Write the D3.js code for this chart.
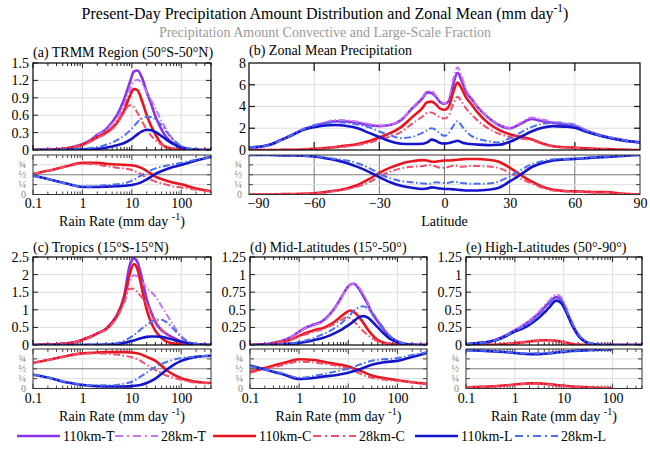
<!DOCTYPE html>
<html><head><meta charset="utf-8">
<script src="https://cdn.jsdelivr.net/npm/d3@7"></script>
<style>body{margin:0;background:#fff}svg{display:block}svg text{font-family:"Liberation Serif","Times New Roman",serif !important}</style>
</head><body><script>
// ---------------- DATA ----------------
const rate = [0.1,0.2,0.3,0.5,0.7,1,1.5,2,3,4,5,7,9,11,13,16,20,25,30,40,50,70,100,150,200,300,400];
const fracRate = [0.1,0.2,0.5,1,2,3,5,7,10,15,20,30,50,70,100,200,400];
const fracRateE = [0.1,0.2,0.5,1,2,3,5,7,10,15,20,30,50,70,100];
const lat = [-90,-85,-80,-75,-70,-65,-60,-55,-50,-45,-40,-35,-30,-25,-20,-15,-10,-8,-6,-4,-2,0,2,4,6,8,10,12,15,20,25,30,35,40,45,50,55,60,65,70,75,80,85,90];
const seriesNames = ["110km-T","28km-T","110km-C","28km-C","110km-L","28km-L"];

// (a) TRMM region
const aT110 = [0,0.005,0.01,0.03,0.06,0.1,0.18,0.26,0.36,0.48,0.6,0.88,1.15,1.35,1.37,1.25,1.0,0.78,0.58,0.35,0.22,0.11,0.05,0.015,0.005,0,0];
const aT28  = [0,0.005,0.01,0.03,0.06,0.1,0.18,0.25,0.35,0.45,0.55,0.78,1.02,1.18,1.21,1.15,1.0,0.85,0.72,0.5,0.35,0.17,0.06,0.02,0.01,0,0];
const aC110 = [0,0.005,0.01,0.03,0.05,0.09,0.16,0.22,0.3,0.38,0.47,0.68,0.92,1.05,1.03,0.85,0.6,0.4,0.27,0.1,0.05,0.02,0.01,0,0,0,0];
const aC28  = [0,0.005,0.01,0.03,0.05,0.08,0.15,0.21,0.28,0.36,0.45,0.65,0.77,0.74,0.64,0.5,0.35,0.24,0.17,0.09,0.05,0.02,0.01,0,0,0,0];
const aL110 = [0,0,0,0.003,0.006,0.01,0.015,0.02,0.04,0.06,0.08,0.12,0.17,0.22,0.27,0.32,0.35,0.34,0.31,0.24,0.18,0.1,0.04,0.015,0.005,0,0];
const aL28  = [0,0,0.002,0.005,0.01,0.02,0.035,0.05,0.09,0.13,0.17,0.25,0.33,0.41,0.48,0.54,0.57,0.57,0.53,0.43,0.32,0.17,0.07,0.02,0.01,0,0];
const afC110 = [0.52,0.6,0.72,0.8,0.8,0.78,0.76,0.75,0.74,0.68,0.6,0.45,0.35,0.3,0.26,0.15,0.08];
const afC28  = [0.52,0.6,0.72,0.78,0.76,0.72,0.68,0.66,0.62,0.52,0.42,0.33,0.25,0.2,0.18,0.12,0.07];
const afL110 = [0.48,0.39,0.27,0.19,0.19,0.2,0.21,0.22,0.24,0.3,0.38,0.52,0.64,0.7,0.75,0.86,0.95];
const afL28  = [0.48,0.39,0.27,0.2,0.22,0.24,0.26,0.28,0.35,0.47,0.56,0.66,0.73,0.77,0.8,0.88,0.95];

// (b) zonal mean
const bT110 = [0.25,0.3,0.5,0.95,1.4,1.9,2.2,2.45,2.65,2.62,2.5,2.3,2.2,2.3,2.75,3.8,4.8,5.3,5.25,4.9,4.4,4.25,4.5,6.0,7.1,6.3,5.3,4.8,4.0,3.0,2.3,2.0,2.4,2.85,2.65,2.5,2.35,2.2,1.8,1.45,1.2,1.0,0.8,0.7];
const bT28  = [0.25,0.3,0.5,0.95,1.45,1.95,2.3,2.55,2.75,2.72,2.6,2.4,2.25,2.35,2.8,3.85,4.9,5.4,5.4,5.0,4.45,4.3,4.7,6.5,7.6,6.7,5.5,4.9,4.05,3.05,2.35,2.05,2.5,3.0,2.8,2.6,2.5,2.35,1.85,1.5,1.22,1.02,0.82,0.7];
const bC110 = [0,0,0,0.01,0.02,0.05,0.1,0.18,0.28,0.4,0.55,0.8,1.15,1.55,2.1,3.0,3.9,4.4,4.45,4.2,3.8,3.7,4.0,5.3,6.2,5.6,4.8,4.3,3.5,2.5,1.85,1.45,1.2,1.0,0.6,0.35,0.25,0.22,0.15,0.1,0.08,0.03,0.01,0];
const bC28  = [0,0,0,0.01,0.02,0.04,0.08,0.15,0.24,0.33,0.45,0.65,0.95,1.25,1.65,2.4,3.1,3.4,3.45,3.25,3.0,2.9,3.2,4.2,4.9,4.4,3.8,3.35,2.75,2.0,1.5,1.2,1.05,0.9,0.55,0.3,0.22,0.2,0.13,0.08,0.06,0.02,0.01,0];
const bL110 = [0.25,0.3,0.5,0.95,1.38,1.85,2.1,2.25,2.3,2.2,2.0,1.6,1.2,0.8,0.58,0.55,0.58,0.7,0.95,0.85,0.65,0.6,0.65,0.75,0.85,0.7,0.6,0.55,0.5,0.45,0.48,0.75,1.2,1.7,2.05,2.2,2.15,2.05,1.7,1.4,1.15,0.95,0.8,0.7];
const bL28  = [0.25,0.3,0.5,0.95,1.42,1.92,2.25,2.45,2.55,2.5,2.35,2.1,1.7,1.35,1.1,1.2,1.6,1.8,2.0,1.85,1.5,1.3,1.55,2.2,2.65,2.2,1.7,1.35,1.05,0.82,0.68,1.1,1.6,2.1,2.4,2.5,2.42,2.25,1.8,1.45,1.2,1.0,0.8,0.7];
const bfC110 = [0,0,0,0.01,0.01,0.02,0.03,0.06,0.1,0.15,0.24,0.38,0.55,0.68,0.78,0.84,0.87,0.86,0.83,0.83,0.85,0.86,0.86,0.87,0.88,0.89,0.9,0.9,0.9,0.88,0.83,0.68,0.5,0.33,0.2,0.12,0.09,0.08,0.07,0.06,0.06,0.03,0.01,0];
const bfC28  = [0,0,0,0.01,0.01,0.02,0.03,0.05,0.09,0.13,0.2,0.3,0.45,0.58,0.66,0.7,0.72,0.74,0.74,0.71,0.68,0.68,0.7,0.73,0.72,0.7,0.71,0.72,0.72,0.71,0.67,0.55,0.4,0.28,0.17,0.1,0.08,0.07,0.06,0.05,0.05,0.02,0.01,0];
const bfL110 = [1,1,1,0.99,0.99,0.98,0.96,0.92,0.87,0.8,0.7,0.58,0.44,0.31,0.22,0.17,0.14,0.15,0.18,0.17,0.15,0.14,0.14,0.13,0.12,0.11,0.1,0.1,0.1,0.12,0.17,0.33,0.5,0.69,0.8,0.86,0.89,0.9,0.92,0.94,0.95,0.97,0.99,1];
const bfL28  = [1,1,1,0.99,0.99,0.98,0.97,0.94,0.9,0.86,0.79,0.68,0.53,0.41,0.34,0.31,0.28,0.27,0.28,0.31,0.3,0.29,0.3,0.32,0.31,0.29,0.28,0.27,0.27,0.28,0.33,0.46,0.62,0.76,0.84,0.89,0.9,0.91,0.93,0.95,0.96,0.98,0.99,1];

// (c) tropics
const cT110 = [0,0.01,0.02,0.05,0.08,0.15,0.24,0.33,0.46,0.65,0.85,1.4,2.25,2.46,2.35,1.9,1.3,0.9,0.65,0.42,0.32,0.2,0.1,0.04,0.02,0.005,0];
const cT28  = [0,0.01,0.02,0.05,0.08,0.15,0.24,0.33,0.45,0.62,0.8,1.3,1.8,1.98,1.95,1.8,1.62,1.5,1.38,1.1,0.88,0.55,0.25,0.08,0.03,0.005,0];
const cC110 = [0,0.01,0.02,0.05,0.08,0.15,0.24,0.33,0.45,0.63,0.82,1.33,2.0,2.3,2.15,1.6,1.0,0.62,0.4,0.2,0.1,0.04,0.02,0.005,0,0,0];
const cC28  = [0,0.01,0.02,0.05,0.08,0.15,0.24,0.32,0.44,0.6,0.78,1.2,1.6,1.6,1.5,1.35,1.15,0.9,0.7,0.45,0.3,0.15,0.06,0.02,0.005,0,0];
const cL110 = [0,0,0,0,0,0.002,0.003,0.005,0.01,0.02,0.03,0.06,0.1,0.13,0.16,0.2,0.23,0.24,0.24,0.23,0.2,0.15,0.09,0.04,0.02,0.005,0];
const cL28  = [0,0,0,0,0,0.003,0.006,0.01,0.02,0.04,0.06,0.12,0.2,0.28,0.36,0.47,0.57,0.66,0.71,0.72,0.65,0.45,0.22,0.07,0.03,0.01,0];
const cfC110 = [0.65,0.72,0.83,0.89,0.91,0.92,0.92,0.92,0.91,0.87,0.8,0.7,0.47,0.35,0.26,0.17,0.14];
const cfC28  = [0.65,0.72,0.83,0.88,0.89,0.88,0.86,0.83,0.79,0.7,0.6,0.47,0.33,0.27,0.22,0.15,0.13];
const cfL110 = [0.35,0.28,0.15,0.09,0.06,0.05,0.05,0.05,0.06,0.09,0.14,0.25,0.47,0.6,0.7,0.8,0.83];
const cfL28  = [0.35,0.28,0.16,0.1,0.08,0.08,0.09,0.12,0.17,0.3,0.4,0.55,0.67,0.73,0.77,0.81,0.83];

// (d) mid-latitudes
const dT110 = [0,0.01,0.03,0.07,0.12,0.19,0.26,0.29,0.34,0.42,0.5,0.66,0.79,0.86,0.87,0.81,0.7,0.58,0.46,0.33,0.24,0.12,0.05,0.015,0.005,0,0];
const dT28  = [0,0.01,0.03,0.07,0.12,0.19,0.25,0.28,0.33,0.41,0.49,0.65,0.79,0.86,0.87,0.83,0.73,0.6,0.48,0.35,0.26,0.13,0.05,0.015,0.005,0,0];
const dC110 = [0,0.005,0.02,0.05,0.08,0.13,0.18,0.21,0.24,0.28,0.32,0.4,0.46,0.49,0.47,0.41,0.32,0.22,0.15,0.07,0.04,0.015,0.005,0,0,0,0];
const dC28  = [0,0.005,0.02,0.045,0.075,0.12,0.16,0.19,0.22,0.26,0.29,0.35,0.39,0.38,0.34,0.27,0.2,0.14,0.1,0.05,0.03,0.01,0,0,0,0,0];
const dL110 = [0,0.002,0.004,0.01,0.02,0.03,0.05,0.07,0.1,0.13,0.16,0.21,0.26,0.3,0.34,0.39,0.41,0.39,0.34,0.25,0.18,0.09,0.04,0.01,0.003,0,0];
const dL28  = [0,0.002,0.005,0.015,0.025,0.04,0.07,0.1,0.15,0.19,0.23,0.3,0.37,0.43,0.49,0.53,0.55,0.52,0.46,0.35,0.25,0.13,0.05,0.015,0.005,0,0];
const dfC110 = [0.42,0.52,0.65,0.74,0.72,0.68,0.63,0.6,0.56,0.48,0.42,0.33,0.27,0.24,0.21,0.16,0.12];
const dfC28  = [0.4,0.49,0.6,0.68,0.66,0.63,0.59,0.55,0.5,0.41,0.34,0.27,0.23,0.21,0.19,0.15,0.1];
const dfL110 = [0.58,0.48,0.35,0.24,0.27,0.3,0.33,0.36,0.4,0.46,0.52,0.6,0.66,0.68,0.7,0.8,0.9];
const dfL28  = [0.57,0.48,0.37,0.27,0.32,0.36,0.42,0.46,0.5,0.58,0.64,0.7,0.74,0.75,0.77,0.85,0.92];

// (e) high-latitudes
const eT110 = [0.01,0.03,0.05,0.1,0.15,0.21,0.28,0.34,0.44,0.53,0.6,0.68,0.63,0.51,0.39,0.25,0.14,0.07,0.035,0.01,0.003,0,0,0,0,0,0];
const eT28  = [0.01,0.03,0.05,0.1,0.15,0.21,0.29,0.35,0.46,0.56,0.63,0.72,0.67,0.55,0.42,0.28,0.16,0.08,0.04,0.012,0.004,0,0,0,0,0,0];
const eC110 = [0,0.001,0.003,0.008,0.015,0.025,0.04,0.05,0.062,0.068,0.067,0.06,0.045,0.035,0.025,0.015,0.008,0.004,0.002,0,0,0,0,0,0,0,0];
const eC28  = [0,0.001,0.003,0.007,0.013,0.022,0.036,0.046,0.058,0.064,0.064,0.058,0.046,0.036,0.026,0.016,0.009,0.004,0.002,0,0,0,0,0,0,0,0];
const eL110 = [0.01,0.03,0.047,0.09,0.135,0.19,0.24,0.29,0.38,0.46,0.53,0.63,0.59,0.48,0.37,0.24,0.13,0.065,0.033,0.01,0.003,0,0,0,0,0,0];
const eL28  = [0.01,0.03,0.048,0.092,0.14,0.2,0.26,0.31,0.41,0.5,0.57,0.68,0.64,0.52,0.4,0.27,0.15,0.075,0.038,0.012,0.004,0,0,0,0,0,0];
const efC110 = [0.03,0.04,0.07,0.1,0.13,0.13,0.11,0.09,0.07,0.05,0.04,0.03,0.015,0.01,0.005];
const efC28  = [0.03,0.04,0.06,0.09,0.12,0.12,0.1,0.08,0.06,0.045,0.035,0.025,0.012,0.008,0.004];
const efL110 = [0.97,0.96,0.93,0.9,0.87,0.87,0.89,0.91,0.93,0.95,0.96,0.97,0.985,0.99,0.995];
const efL28  = [0.97,0.96,0.94,0.91,0.89,0.89,0.9,0.92,0.94,0.95,0.96,0.97,0.98,0.99,0.995];

const fracTicks = [0, 0.25, 0.5, 0.75];
const fracLabels = ["0", "\u00BC", "\u00BD", "\u00BE"];
const rateTicks = [0.1, 1, 10, 100];
const latTicks = [-90, -60, -30, 0, 30, 60, 90];

// ---------------- STYLE ----------------
const style = {
  "110km-T": {c: "#8c32e6", w: 2.6, dash: null},
  "28km-T":  {c: "#c674f4", w: 2.0, dash: "7,2.5,1.5,2.5"},
  "110km-C": {c: "#e8141e", w: 2.6, dash: null},
  "28km-C":  {c: "#f0506e", w: 2.0, dash: "7,2.5,1.5,2.5"},
  "110km-L": {c: "#1414cc", w: 2.6, dash: null},
  "28km-L":  {c: "#4d6ef0", w: 2.0, dash: "7,2.5,1.5,2.5"}
};
const GRID = "#dedede", MID = "#7a7a7a";

const svg = d3.select("body").append("svg").attr("width", 650).attr("height", 450);
svg.append("rect").attr("width", 650).attr("height", 450).attr("fill", "#fff");
const defs = svg.append("defs");

function supText(parent, x, y, anchor, size, fill, pre, sup, post) {
  const t = parent.append("text").attr("x", x).attr("y", y).attr("text-anchor", anchor)
    .attr("font-size", size).attr("fill", fill);
  t.append("tspan").text(pre);
  t.append("tspan").attr("dy", -size * 0.42).attr("font-size", size * 0.72).text(sup);
  t.append("tspan").attr("dy", size * 0.42).text(post);
  return t;
}

// titles
supText(svg, 325, 19, "middle", 16, "#000", "Present-Day Precipitation Amount Distribution and Zonal Mean (mm day", "-1", ")");
svg.append("text").attr("x", 325).attr("y", 37).attr("text-anchor", "middle").attr("font-size", 14)
  .attr("fill", "#9a9a9a").text("Precipitation Amount Convective and Large-Scale Fraction");

let clipN = 0;
function clip(x0, y0, x1, y1) {
  const id = "clip" + (clipN++);
  defs.append("clipPath").attr("id", id).append("rect").attr("x", x0).attr("y", y0).attr("width", x1 - x0).attr("height", y1 - y0);
  return "url(#" + id + ")";
}

function drawSeries(g, xs, ys, xv, yv, clipUrl, name) {
  const s = style[name];
  const line = d3.line().x(d => xs(d[0])).y(d => ys(d[1])).curve(d3.curveMonotoneX);
  g.append("path").datum(xv.map((v, i) => [v, yv[i]])).attr("d", line)
    .attr("fill", "none").attr("stroke", s.c).attr("stroke-width", s.w)
    .attr("stroke-dasharray", s.dash).attr("stroke-linejoin", "round").attr("clip-path", clipUrl);
}

function ln(g, x1, y1, x2, y2, col, w) {
  g.append("line").attr("x1", x1).attr("y1", y1).attr("x2", x2).attr("y2", y2).attr("stroke", col).attr("stroke-width", w || 1);
}

function fracFrame(g, x0, x1, yf) {
  fracTicks.forEach(v => {
    if (v === 0) return;
    ln(g, x0, yf(v), x1, yf(v), v === 0.5 ? MID : GRID, 1);
  });
}

function fracLabelsDraw(g, x0, x1, yf) {
  const ax = d3.axisLeft(yf).tickValues(fracTicks).tickFormat((d, i) => fracLabels[i]).tickSize(0).tickPadding(7);
  const a = g.append("g").attr("transform", `translate(${x0},0)`).call(ax);
  a.select(".domain").remove();
  a.attr("font-size", 10);
  a.selectAll("text").attr("fill", "#888").attr("dy", "0.3em");
  fracTicks.forEach(v => { if (v > 0) { ln(g, x0, yf(v), x0 + 4, yf(v), "#444"); ln(g, x1, yf(v), x1 - 4, yf(v), "#444"); } });
}

// ------------- log panels -------------
function logPanel(p) {
  const g = svg.append("g");
  const x = d3.scaleLog().domain([0.1, 400]).range([p.x0, p.x1]);
  const y = d3.scaleLinear().domain([0, p.ymax]).range([p.t1, p.t0]);
  const yf = d3.scaleLinear().domain([0, 1]).range([p.l1, p.l0]);
  rateTicks.slice(1).forEach(v => { ln(g, x(v), p.t0, x(v), p.t1, GRID); ln(g, x(v), p.l0, x(v), p.l1, GRID); });
  p.yticks.slice(1, -1).forEach(v => ln(g, p.x0, y(v), p.x1, y(v), GRID));
  fracFrame(g, p.x0, p.x1, yf);
  const minor = [];
  [0.1, 1, 10, 100].forEach(d => { for (let k = 1; k <= 9; k++) { const v = +(k * d).toPrecision(3); if (v <= 400) minor.push(v); } });
  minor.forEach(v => {
    const L = rateTicks.includes(v) ? 5 : 3;
    ln(g, x(v), p.t0, x(v), p.t0 + L, "#222");
    ln(g, x(v), p.t1, x(v), p.t1 - L, "#222");
    ln(g, x(v), p.l0, x(v), p.l0 + L, "#444");
    ln(g, x(v), p.l1, x(v), p.l1 - L, "#444");
  });
  p.yticks.forEach(v => { ln(g, p.x0, y(v), p.x0 + 5, y(v), "#222"); ln(g, p.x1, y(v), p.x1 - 5, y(v), "#222"); });
  const cTop = clip(p.x0, p.t0, p.x1, p.t1), cLow = clip(p.x0, p.l0, p.x1, p.l1);
  seriesNames.forEach((n, i) => drawSeries(g, x, y, rate, p.dist[i], cTop, n));
  ["110km-C", "28km-C", "110km-L", "28km-L"].forEach((n, i) => drawSeries(g, x, yf, p.fx, p.frac[i], cLow, n));
  g.append("rect").attr("x", p.x0).attr("y", p.t0).attr("width", p.x1 - p.x0).attr("height", p.t1 - p.t0).attr("fill", "none").attr("stroke", "#000").attr("stroke-width", 1.2);
  g.append("rect").attr("x", p.x0).attr("y", p.l0).attr("width", p.x1 - p.x0).attr("height", p.l1 - p.l0).attr("fill", "none").attr("stroke", "#333").attr("stroke-width", 1);
  const ay = g.append("g").attr("transform", `translate(${p.x0},0)`).call(d3.axisLeft(y).tickValues(p.yticks).tickFormat(d => String(d)).tickSize(0).tickPadding(4));
  ay.select(".domain").remove(); ay.attr("font-size", 14); ay.selectAll("text").attr("fill", "#000");
  fracLabelsDraw(g, p.x0, p.x1, yf);
  const ax = g.append("g").attr("transform", `translate(0,${p.l1})`).call(d3.axisBottom(x).tickValues(rateTicks).tickFormat(d => String(d)).tickSize(0));
  ax.select(".domain").remove(); ax.attr("font-size", 14);
  ax.selectAll("text").attr("fill", "#000").attr("y", p.tickY - p.l1).attr("dy", 0);
  supText(g, (p.x0 + p.x1) / 2, p.axisY, "middle", 14, "#000", "Rain Rate (mm day ", "-1", ")");
  g.append("text").attr("x", p.x0).attr("y", p.titleY).attr("font-size", 14).text(p.title);
}

const rowTop = {t0: 63, t1: 150, l0: 155, l1: 194.5, tickY: 208, axisY: 226};
const rowBot = {t0: 257, t1: 345, l0: 349, l1: 388.5, tickY: 403, axisY: 421};

logPanel(Object.assign({x0: 33, x1: 211, ymax: 1.5, yticks: [0, 0.3, 0.6, 0.9, 1.2, 1.5], title: "(a) TRMM Region (50°S-50°N)", titleY: 57,
  dist: [aT110, aT28, aC110, aC28, aL110, aL28], fx: fracRate, frac: [afC110, afC28, afL110, afL28]}, rowTop));
logPanel(Object.assign({x0: 33, x1: 211, ymax: 2.5, yticks: [0, 0.5, 1, 1.5, 2, 2.5], title: "(c) Tropics (15°S-15°N)", titleY: 252,
  dist: [cT110, cT28, cC110, cC28, cL110, cL28], fx: fracRate, frac: [cfC110, cfC28, cfL110, cfL28]}, rowBot));
logPanel(Object.assign({x0: 250, x1: 427, ymax: 1.25, yticks: [0, 0.25, 0.5, 0.75, 1, 1.25], title: "(d) Mid-Latitudes (15°-50°)", titleY: 252,
  dist: [dT110, dT28, dC110, dC28, dL110, dL28], fx: fracRate, frac: [dfC110, dfC28, dfL110, dfL28]}, rowBot));
logPanel(Object.assign({x0: 466, x1: 642, ymax: 1.25, yticks: [0, 0.25, 0.5, 0.75, 1, 1.25], title: "(e) High-Latitudes (50°-90°)", titleY: 252,
  dist: [eT110, eT28, eC110, eC28, eL110, eL28], fx: fracRateE, frac: [efC110, efC28, efL110, efL28]}, rowBot));

// ------------- zonal panel (b) -------------
(function () {
  const p = Object.assign({x0: 249, x1: 640}, rowTop);
  const g = svg.append("g");
  const x = d3.scaleLinear().domain([-90, 90]).range([p.x0, p.x1]);
  const y = d3.scaleLinear().domain([0, 8]).range([p.t1, p.t0]);
  const yf = d3.scaleLinear().domain([0, 1]).range([p.l1, p.l0]);
  const inner = latTicks.slice(1, -1);
  inner.forEach(v => { ln(g, x(v), p.t0, x(v), p.t1, GRID); ln(g, x(v), p.l0, x(v), p.l1, MID); });
  [2, 4, 6].forEach(v => ln(g, p.x0, y(v), p.x1, y(v), GRID));
  fracFrame(g, p.x0, p.x1, yf);
  inner.forEach(v => { ln(g, x(v), p.t0, x(v), p.t0 + 8, "#222", 1.3); ln(g, x(v), p.t1, x(v), p.t1 - 8, "#222", 1.3); });
  [2, 4, 6].forEach(v => { ln(g, p.x0, y(v), p.x0 + 6, y(v), "#222", 1.3); ln(g, p.x1, y(v), p.x1 - 6, y(v), "#222", 1.3); });
  const cTop = clip(p.x0, p.t0, p.x1, p.t1), cLow = clip(p.x0, p.l0, p.x1, p.l1);
  const d = [bT110, bT28, bC110, bC28, bL110, bL28];
  seriesNames.forEach((n, i) => drawSeries(g, x, y, lat, d[i], cTop, n));
  const f = [bfC110, bfC28, bfL110, bfL28];
  ["110km-C", "28km-C", "110km-L", "28km-L"].forEach((n, i) => drawSeries(g, x, yf, lat, f[i], cLow, n));
  g.append("rect").attr("x", p.x0).attr("y", p.t0).attr("width", p.x1 - p.x0).attr("height", p.t1 - p.t0).attr("fill", "none").attr("stroke", "#000").attr("stroke-width", 1.2);
  g.append("rect").attr("x", p.x0).attr("y", p.l0).attr("width", p.x1 - p.x0).attr("height", p.l1 - p.l0).attr("fill", "none").attr("stroke", "#333").attr("stroke-width", 1);
  const ay = g.append("g").attr("transform", `translate(${p.x0},0)`).call(d3.axisLeft(y).tickValues([0, 2, 4, 6, 8]).tickSize(0).tickPadding(3));
  ay.select(".domain").remove(); ay.attr("font-size", 14); ay.selectAll("text").attr("fill", "#000");
  fracLabelsDraw(g, p.x0, p.x1, yf);
  const ax = g.append("g").attr("transform", `translate(0,${p.l1})`).call(d3.axisBottom(x).tickValues(latTicks).tickSize(0));
  ax.select(".domain").remove(); ax.attr("font-size", 14);
  ax.selectAll("text").attr("fill", "#000").attr("y", p.tickY - p.l1).attr("dy", 0);
  ax.selectAll("text").filter(v => v === -90).attr("text-anchor", "start").attr("x", -2);
  g.append("text").attr("x", (p.x0 + p.x1) / 2).attr("y", p.axisY).attr("text-anchor", "middle").attr("font-size", 14).text("Latitude");
  g.append("text").attr("x", p.x0).attr("y", 55).attr("font-size", 14).text("(b) Zonal Mean Precipitation");
})();

// ------------- legend -------------
const legX = [17, 115, 213, 313, 415, 515];
const lg = svg.append("g");
seriesNames.forEach((n, i) => {
  const s = style[n];
  lg.append("line").attr("x1", legX[i]).attr("x2", legX[i] + 43).attr("y1", 436).attr("y2", 436)
    .attr("stroke", s.c).attr("stroke-width", s.w).attr("stroke-dasharray", s.dash ? "8,4,2,4" : null);
  lg.append("text").attr("x", legX[i] + 46).attr("y", 441).attr("font-size", 14).text(n);
});
</script></body></html>
